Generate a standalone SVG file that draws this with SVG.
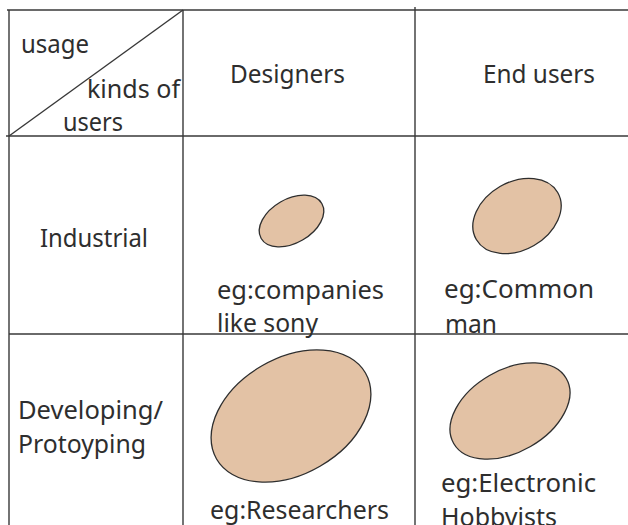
<svg xmlns="http://www.w3.org/2000/svg" width="628" height="525" viewBox="0 0 628 525">
  <style>
    .grid { stroke: #383838; stroke-width: 1.4; fill: none; }
    .blob { fill: #e3c2a5; stroke: #2e2e2e; stroke-width: 1.3; }
    text { font-family: "Noto Sans", "Open Sans", sans-serif; fill: #2e2e2e; }
    .hd { font-size: 25.5px; }
    .lb { font-size: 25px; }
  </style>
  <rect width="628" height="525" fill="#ffffff"/>

  <!-- table rules -->
  <g id="grid" class="grid">
    <line x1="7" y1="10" x2="628" y2="10"/>
    <line x1="6" y1="136" x2="628" y2="136"/>
    <line x1="9" y1="334" x2="628" y2="334"/>
    <line x1="9" y1="10" x2="9" y2="525"/>
    <line x1="183" y1="10" x2="183" y2="525"/>
    <line x1="415" y1="7" x2="415" y2="525"/>
    <line x1="9" y1="136" x2="183" y2="10"/>
  </g>

  <!-- corner cell -->
  <g id="corner">
    <text class="hd" x="21" y="53" textLength="68" lengthAdjust="spacingAndGlyphs">usage</text>
    <text class="hd" x="87" y="98" textLength="93" lengthAdjust="spacingAndGlyphs">kinds of</text>
    <text class="hd" x="63" y="131" textLength="60" lengthAdjust="spacingAndGlyphs">users</text>
  </g>

  <!-- column headers -->
  <g id="col-designers">
    <text class="hd" x="230" y="83" textLength="115" lengthAdjust="spacingAndGlyphs">Designers</text>
  </g>
  <g id="col-endusers">
    <text class="hd" x="483" y="83" textLength="112" lengthAdjust="spacingAndGlyphs">End users</text>
  </g>

  <!-- row headers -->
  <g id="row-industrial">
    <text class="hd" x="40" y="247" textLength="108" lengthAdjust="spacingAndGlyphs">Industrial</text>
  </g>
  <g id="row-developing">
    <text class="hd" x="18" y="419" textLength="145" lengthAdjust="spacingAndGlyphs">Developing/</text>
    <text class="hd" x="18" y="453" textLength="128" lengthAdjust="spacingAndGlyphs">Protoyping</text>
  </g>

  <!-- industrial / designers -->
  <g id="cell-ind-des">
    <ellipse class="blob" cx="291.5" cy="221" rx="35" ry="22" transform="rotate(-30 291.5 221)"/>
    <text class="lb" x="217" y="299" textLength="167" lengthAdjust="spacingAndGlyphs">eg:companies</text>
    <text class="lb" x="217" y="332" textLength="101" lengthAdjust="spacingAndGlyphs">like sony</text>
  </g>

  <!-- industrial / end users -->
  <g id="cell-ind-end">
    <ellipse class="blob" cx="517" cy="216" rx="47" ry="34" transform="rotate(-30 517 216)"/>
    <text class="lb" x="444" y="298" textLength="150" lengthAdjust="spacingAndGlyphs">eg:Common</text>
    <text class="lb" x="445" y="333" textLength="52" lengthAdjust="spacingAndGlyphs">man</text>
  </g>

  <!-- developing / designers -->
  <g id="cell-dev-des">
    <ellipse class="blob" cx="291" cy="416" rx="86" ry="58" transform="rotate(-30 291 416)"/>
    <text class="lb" x="210" y="519" textLength="179" lengthAdjust="spacingAndGlyphs">eg:Researchers</text>
  </g>

  <!-- developing / end users -->
  <g id="cell-dev-end">
    <ellipse class="blob" cx="510" cy="411" rx="65" ry="41" transform="rotate(-30 510 411)"/>
    <text class="lb" x="441" y="492" textLength="155" lengthAdjust="spacingAndGlyphs">eg:Electronic</text>
    <text class="lb" x="441" y="526" textLength="116" lengthAdjust="spacingAndGlyphs">Hobbyists</text>
  </g>
</svg>
